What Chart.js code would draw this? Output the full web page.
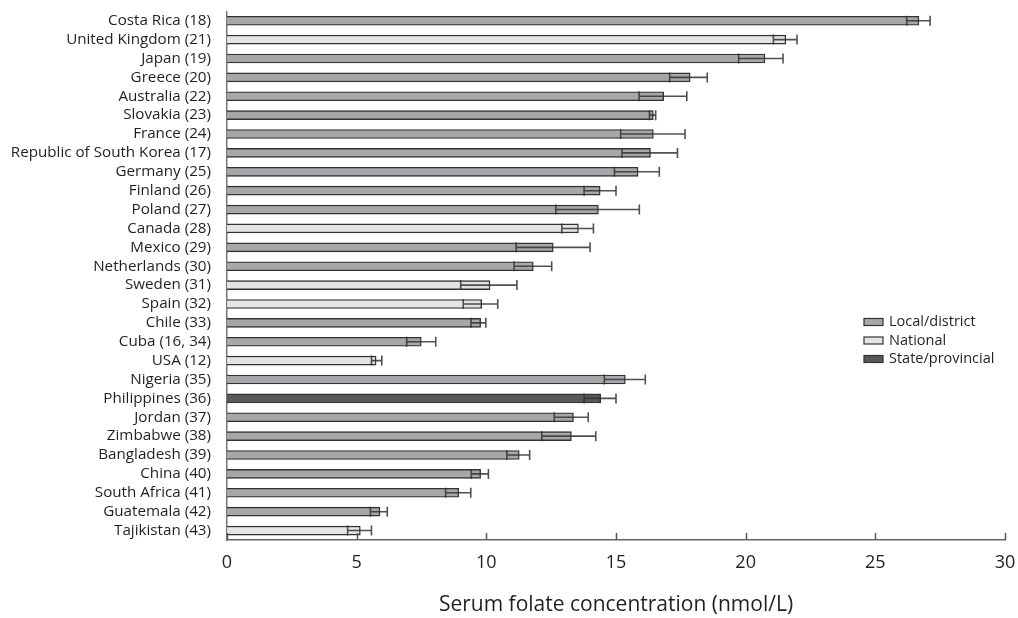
<!DOCTYPE html>
<html>
<head>
<meta charset="utf-8">
<title>Serum folate concentration</title>
<script src="https://cdn.jsdelivr.net/npm/chart.js@4.4.0/dist/chart.umd.min.js"></script>
<style>
  html, body { margin: 0; padding: 0; background: #fff; }
  #wrap { width: 1018px; height: 618px; position: relative; }
</style>
</head>
<body>
<div id="wrap"><canvas id="folate"></canvas></div>
<script>
// values (nmol/L): mean with lower / upper limit
const countries = [
  'Costa Rica (18)', 'United Kingdom (21)', 'Japan (19)', 'Greece (20)',
  'Australia (22)', 'Slovakia (23)', 'France (24)', 'Republic of South Korea (17)',
  'Germany (25)', 'Finland (26)', 'Poland (27)', 'Canada (28)', 'Mexico (29)',
  'Netherlands (30)', 'Sweden (31)', 'Spain (32)', 'Chile (33)', 'Cuba (16, 34)',
  'USA (12)', 'Nigeria (35)', 'Philippines (36)', 'Jordan (37)', 'Zimbabwe (38)',
  'Bangladesh (39)', 'China (40)', 'South Africa (41)', 'Guatemala (42)', 'Tajikistan (43)'
];
const surveyLevel = [
  'Local/district', 'National', 'Local/district', 'Local/district',
  'Local/district', 'Local/district', 'Local/district', 'Local/district',
  'Local/district', 'Local/district', 'Local/district', 'National', 'Local/district',
  'Local/district', 'National', 'National', 'Local/district', 'Local/district',
  'National', 'Local/district', 'State/provincial', 'Local/district', 'Local/district',
  'Local/district', 'Local/district', 'Local/district', 'Local/district', 'National'
];
const meanFolate = [
  26.68, 21.55, 20.74, 17.86, 16.84, 16.44, 16.44, 16.33, 15.85, 14.39,
  14.32, 13.55, 12.58, 11.81, 10.14, 9.82, 9.78, 7.49, 5.75, 15.36,
  14.41, 13.36, 13.28, 11.27, 9.78, 8.94, 5.90, 5.14
];
const lowerLimit = [
  26.21, 21.07, 19.73, 17.07, 15.89, 16.29, 15.18, 15.23, 14.94, 13.77,
  12.68, 12.91, 11.15, 11.07, 9.01, 9.11, 9.41, 6.93, 5.57, 14.55,
  13.77, 12.62, 12.14, 10.79, 9.42, 8.43, 5.53, 4.65
];
const upperLimit = [
  27.11, 21.98, 21.44, 18.52, 17.73, 16.53, 17.66, 17.37, 16.67, 15.00,
  15.90, 14.13, 14.00, 12.52, 11.18, 10.44, 9.98, 8.05, 5.97, 16.13,
  15.00, 13.93, 14.22, 11.67, 10.08, 9.40, 6.18, 5.57
];
const levels = ['Local/district', 'National', 'State/provincial'];
const xTickValues = [0, 5, 10, 15, 20, 25, 30];

const fillFor = {
  'Local/district': '#a7a7aa',
  'National': '#e4e4e6',
  'State/provincial': '#58585b'
};
const FONT = "'Open Sans', 'DejaVu Sans', sans-serif";
const INK = '#231f20';

// one dataset per survey level, non-grouped so every bar keeps its full row
const datasets = levels.map((lvl) => ({
  label: lvl,
  data: meanFolate.map((v, i) => (surveyLevel[i] === lvl ? v : null)),
  backgroundColor: fillFor[lvl],
  borderColor: '#333333',
  borderWidth: 1.4,
  barThickness: 9,
  grouped: false
}));

// whiskers + caps for the interval of each country
const errorBars = {
  id: 'errorBars',
  afterDatasetsDraw(chart) {
    const { ctx } = chart;
    const x = chart.scales.x;
    ctx.save();
    countries.forEach((c, i) => {
      const ds = levels.indexOf(surveyLevel[i]);
      const bar = chart.getDatasetMeta(ds).data[i];
      if (!bar) return;
      const y = bar.y;
      const lo = x.getPixelForValue(lowerLimit[i]);
      const hi = x.getPixelForValue(upperLimit[i]);
      ctx.strokeStyle = 'rgba(50,50,50,0.85)';
      ctx.lineWidth = 1.6;
      ctx.beginPath();
      ctx.moveTo(lo, y);
      ctx.lineTo(hi, y);
      ctx.moveTo(lo, y - 5);
      ctx.lineTo(lo, y + 5);
      ctx.moveTo(hi, y - 5);
      ctx.lineTo(hi, y + 5);
      ctx.stroke();
    });
    ctx.restore();
  }
};

// inward tick marks on the value axis and the legend box on the right
const decorations = {
  id: 'decorations',
  afterDraw(chart) {
    const { ctx, chartArea } = chart;
    const x = chart.scales.x;
    ctx.save();
    ctx.strokeStyle = '#555';
    ctx.lineWidth = 1.5;
    x.ticks.forEach((t) => {
      const px = Math.round(x.getPixelForValue(t.value)) + 0.5;
      ctx.beginPath();
      ctx.moveTo(px, chartArea.bottom - 7);
      ctx.lineTo(px, chartArea.bottom);
      ctx.stroke();
    });

    // legend
    const lx = 864, ly = 322, step = 18.5;
    ctx.font = '14.5px ' + FONT;
    ctx.textBaseline = 'middle';
    ctx.textAlign = 'left';
    chart.data.datasets.forEach((ds, k) => {
      const cy = ly + k * step;
      ctx.fillStyle = ds.backgroundColor;
      ctx.fillRect(lx, cy - 3.5, 19, 7);
      ctx.strokeStyle = '#333';
      ctx.lineWidth = 1.2;
      ctx.strokeRect(lx, cy - 3.5, 19, 7);
      ctx.fillStyle = INK;
      ctx.fillText(ds.label, lx + 25, cy);
    });
    ctx.restore();
  }
};

new Chart(document.getElementById('folate'), {
  type: 'bar',
  data: { labels: countries, datasets: datasets },
  options: {
    indexAxis: 'y',
    responsive: true,
    maintainAspectRatio: false,
    animation: false,
    layout: { padding: { top: 11.3, right: 13, left: 0, bottom: 0 } },
    plugins: {
      legend: { display: false },
      tooltip: { enabled: false }
    },
    scales: {
      x: {
        min: 0,
        max: 30,
        afterBuildTicks(scale) {
          scale.ticks = xTickValues.map((v) => ({ value: v }));
        },
        afterFit(scale) {
          scale.height = 78;
          scale.paddingLeft = 0;
          scale.paddingRight = 0;
        },
        grid: { display: false, drawTicks: false },
        border: { display: true, color: '#666', width: 1.5 },
        ticks: {
          padding: 12,
          color: INK,
          font: { family: FONT, size: 18 }
        },
        title: {
          display: true,
          text: 'Serum folate concentration (nmol/L)',
          color: INK,
          font: { family: FONT, size: 21 },
          padding: { top: 0, bottom: 0.5 }
        }
      },
      y: {
        afterFit(scale) {
          scale.width = 227;
          scale.paddingTop = 0;
          scale.paddingBottom = 0;
        },
        grid: { display: false, drawTicks: false },
        border: { display: true, color: '#777', width: 1.5 },
        ticks: {
          padding: 16,
          autoSkip: false,
          color: INK,
          font: { family: FONT, size: 15.2 }
        }
      }
    }
  },
  plugins: [errorBars, decorations]
});
</script>
</body>
</html>
